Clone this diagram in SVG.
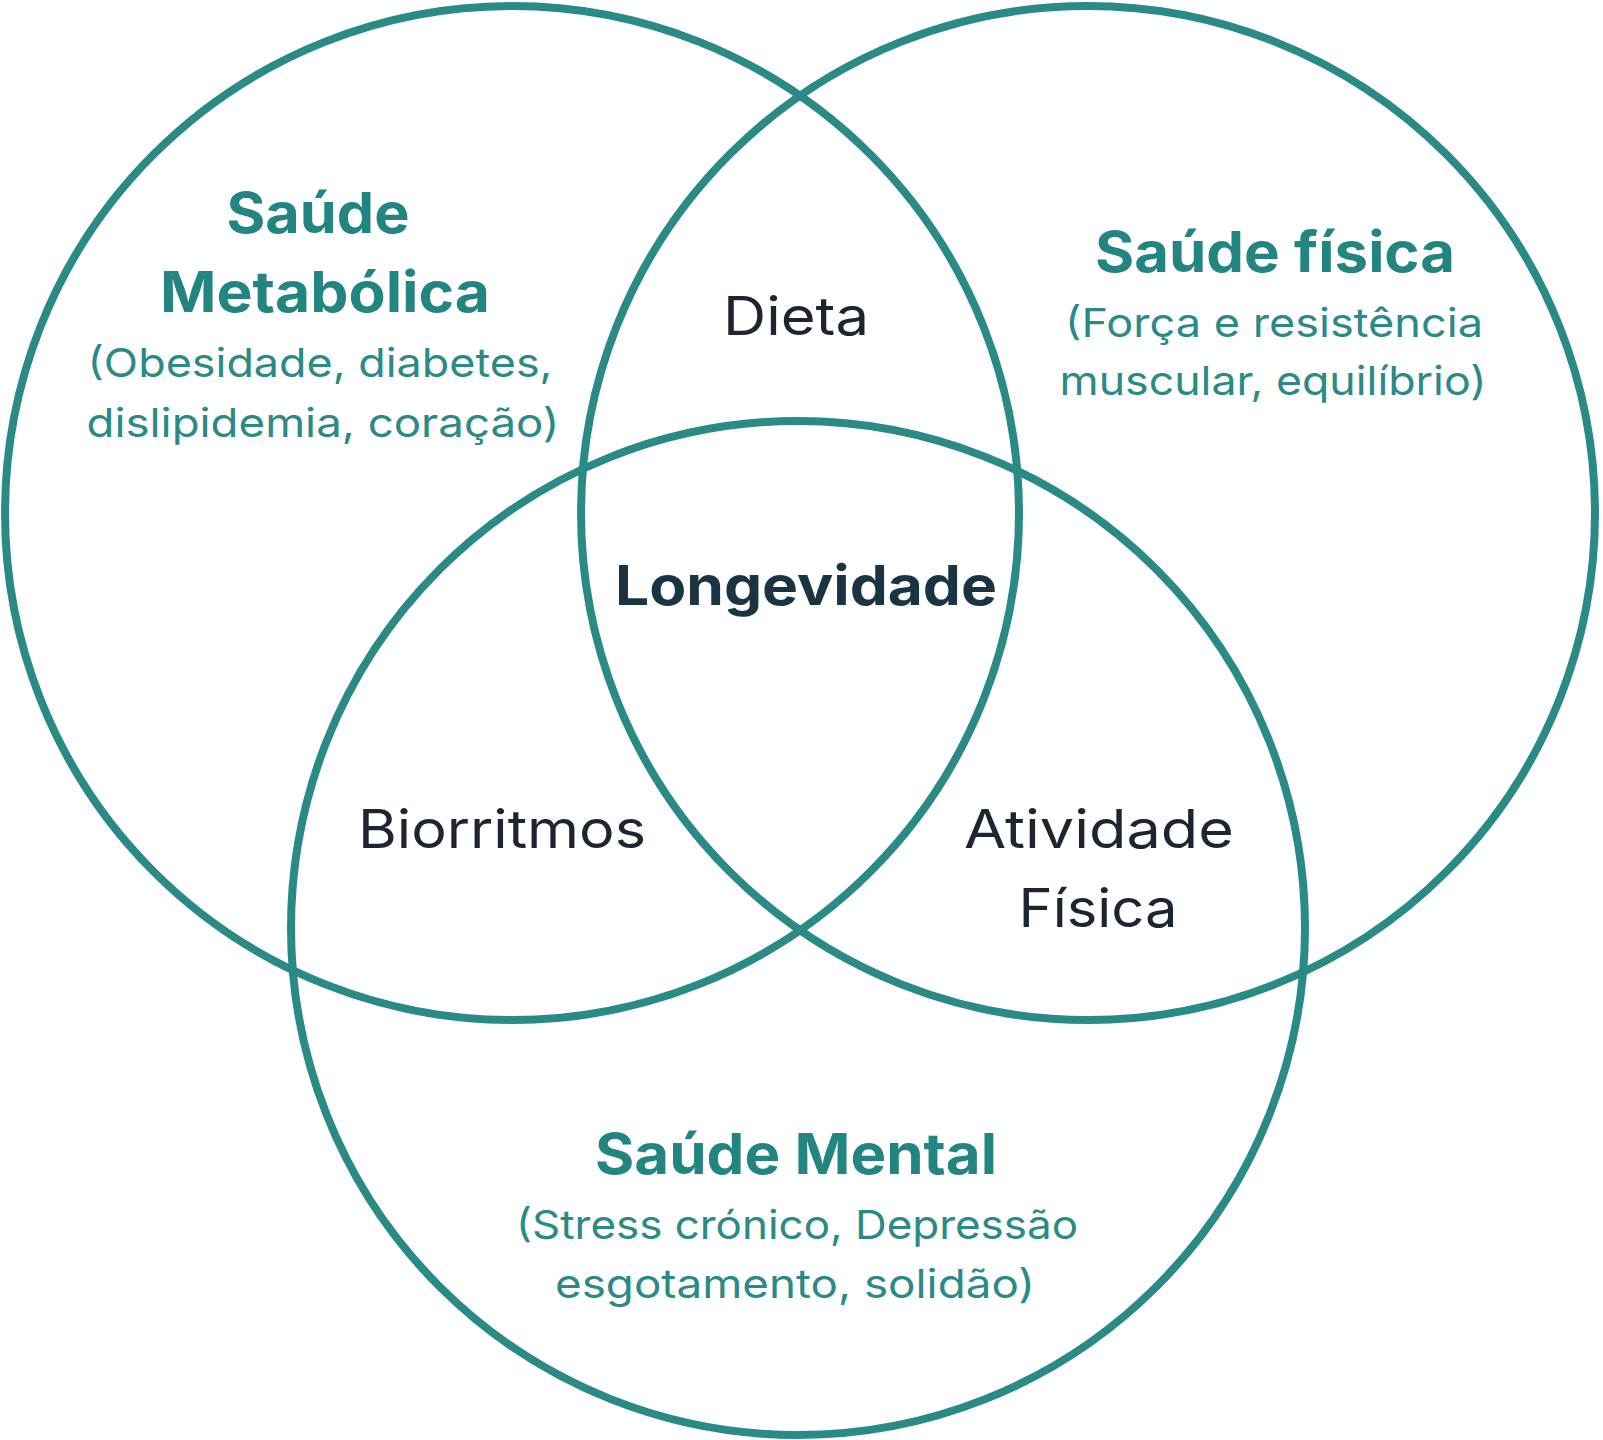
<svg xmlns="http://www.w3.org/2000/svg" width="1603" height="1440" viewBox="0 0 1603 1440">
  <style>
    .bg { fill: #ffffff; stroke: #ffffff; stroke-width: 14; }
    .ring { fill: none; stroke: #2a8a84; stroke-width: 8; }
    .head { font-family: Inter, "Noto Sans", sans-serif; font-weight: 700; fill: #23857f; text-anchor: middle; }
    .sub { font-family: Inter, "Noto Sans", sans-serif; font-weight: 400; fill: #2b8a85; text-anchor: middle; }
    .mid { font-family: Inter, "Noto Sans", sans-serif; font-weight: 400; fill: #1d2630; text-anchor: middle; }
    .core { font-family: Inter, "Noto Sans", sans-serif; font-weight: 700; fill: #1b3442; text-anchor: middle; }
  </style>
  <g id="background">
    <circle class="bg" cx="512" cy="513" r="507"/>
    <circle class="bg" cx="1088" cy="513" r="507"/>
    <circle class="bg" cx="798" cy="928" r="507"/>
  </g>
  <g id="node-metabolica">
    <circle class="ring" cx="512" cy="513" r="507"/>
    <text class="head" x="318" y="233" font-size="56" textLength="183" lengthAdjust="spacingAndGlyphs">Saúde</text>
    <text class="head" x="325" y="312" font-size="56" textLength="330" lengthAdjust="spacingAndGlyphs">Metabólica</text>
    <text class="sub" x="320" y="377" font-size="40" textLength="465" lengthAdjust="spacingAndGlyphs">(Obesidade, diabetes,</text>
    <text class="sub" x="323" y="437" font-size="40" textLength="473" lengthAdjust="spacingAndGlyphs">dislipidemia, coração)</text>
  </g>
  <g id="node-fisica">
    <circle class="ring" cx="1088" cy="513" r="507"/>
    <text class="head" x="1275" y="272" font-size="56" textLength="360" lengthAdjust="spacingAndGlyphs">Saúde física</text>
    <text class="sub" x="1274" y="337" font-size="40" textLength="418" lengthAdjust="spacingAndGlyphs">(Força e resistência</text>
    <text class="sub" x="1273" y="395" font-size="40" textLength="427" lengthAdjust="spacingAndGlyphs">muscular, equilíbrio)</text>
  </g>
  <g id="node-mental">
    <circle class="ring" cx="798" cy="928" r="507"/>
    <text class="head" x="796" y="1174" font-size="56" textLength="402" lengthAdjust="spacingAndGlyphs">Saúde Mental</text>
    <text class="sub" x="797" y="1239" font-size="40" textLength="562" lengthAdjust="spacingAndGlyphs">(Stress crónico, Depressão</text>
    <text class="sub" x="795" y="1298" font-size="40" textLength="480" lengthAdjust="spacingAndGlyphs">esgotamento, solidão)</text>
  </g>
  <g id="node-dieta">
    <text class="mid" x="796" y="335" font-size="53" textLength="146" lengthAdjust="spacingAndGlyphs">Dieta</text>
  </g>
  <g id="node-biorritmos">
    <text class="mid" x="502" y="848" font-size="53" textLength="288" lengthAdjust="spacingAndGlyphs">Biorritmos</text>
  </g>
  <g id="node-atividade">
    <text class="mid" x="1099" y="848" font-size="53" textLength="270" lengthAdjust="spacingAndGlyphs">Atividade</text>
    <text class="mid" x="1098" y="927" font-size="53" textLength="159" lengthAdjust="spacingAndGlyphs">Física</text>
  </g>
  <g id="node-longevidade">
    <text class="core" x="806" y="605" font-size="55" textLength="382" lengthAdjust="spacingAndGlyphs">Longevidade</text>
  </g>
  <g id="connectors"></g>
</svg>
